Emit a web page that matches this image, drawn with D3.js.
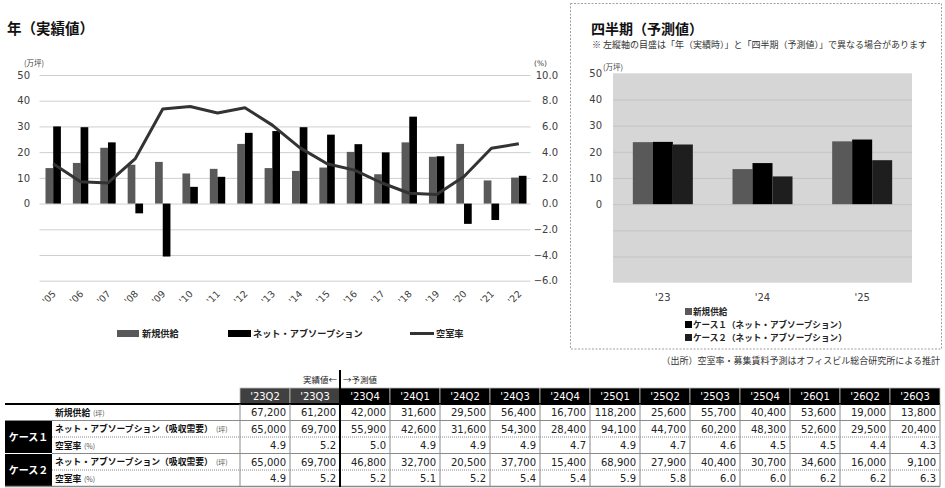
<!DOCTYPE html>
<html>
<head>
<meta charset="utf-8">
<script src="https://cdn.jsdelivr.net/npm/d3@7"></script>
<style>
  body { margin: 0; background: #fff; }
  svg { display: block; }
  text { font-family: "DejaVu Sans", "Noto Sans CJK JP", sans-serif; }
  .jp { font-family: "Noto Sans CJK JP", sans-serif; }
</style>
</head>
<body>
<svg id="chart" width="945" height="488"></svg>
<script>
// ---- Annual results (万坪 / %) ----
const years = ["'05","'06","'07","'08","'09","'10","'11","'12","'13","'14","'15","'16","'17","'18","'19","'20","'21","'22"];
const newSupply = [13.8, 15.8, 21.7, 15.1, 16.2, 11.7, 13.5, 23.2, 13.8, 12.7, 14.0, 20.1, 11.4, 23.8, 18.2, 23.2, 9.0, 10.1];
const netAbsorption = [30.0, 29.7, 23.8, -3.8, -20.6, 6.5, 10.4, 27.5, 28.2, 29.7, 26.8, 23.1, 19.9, 33.8, 18.4, -7.9, -6.4, 10.8];
const vacancy = [3.1, 1.7, 1.6, 3.5, 7.35, 7.55, 7.05, 7.45, 6.1, 4.35, 3.1, 2.6, 1.6, 0.8, 0.7, 2.1, 4.3, 4.65];
const leftTicks = [0, 10, 20, 30, 40, 50];
const rightTicks = [-6, -4, -2, 0, 2, 4, 6, 8, 10];

// ---- Forecast by year (万坪) ----
const fcYears = ["'23", "'24", "'25"];
const fcSupply = [23.7, 13.4, 24.0];
const fcCase1 = [23.8, 15.7, 24.7];
const fcCase2 = [22.8, 10.6, 16.8];

// ---- Quarterly table ----
const quarters = ["'23Q2","'23Q3","'23Q4","'24Q1","'24Q2","'24Q3","'24Q4","'25Q1","'25Q2","'25Q3","'25Q4","'26Q1","'26Q2","'26Q3"];
const qSupply = [67200, 61200, 42000, 31600, 29500, 56400, 16700, 118200, 25600, 55700, 40400, 53600, 19000, 13800];
const qCase1Net = [65000, 69700, 55900, 42600, 31600, 54300, 28400, 94100, 44700, 60200, 48300, 52600, 29500, 20400];
const qCase1Vac = [4.9, 5.2, 5.0, 4.9, 4.9, 4.9, 4.7, 4.9, 4.7, 4.6, 4.5, 4.5, 4.4, 4.3];
const qCase2Net = [65000, 69700, 46800, 32700, 20500, 37700, 15400, 68900, 27900, 40400, 30700, 34600, 16000, 9100];
const qCase2Vac = [4.9, 5.2, 5.2, 5.1, 5.2, 5.4, 5.4, 5.9, 5.8, 6.0, 6.0, 6.2, 6.2, 6.3];
const actualCount = 2;

const C_SUPPLY = "#595959", C_NET = "#000000", C_CASE2 = "#1e1e1e", C_LINE = "#333333";
const svg = d3.select("#chart");

// =================== Annual chart ===================
const L = { x0: 39.5, x1: 532.5, yTop: 75, yBot: 280.7 };
const x = d3.scaleBand().domain(years).range([L.x0, L.x1]);
const xs = d3.scaleBand().domain(["s", "n"]).range([0, 15.4]);
const off = (x.bandwidth() - xs.range()[1]) / 2;
const yL = d3.scaleLinear().domain([-30, 50]).range([L.yBot, L.yTop]);
const yR = d3.scaleLinear().domain([-6, 10]).range([L.yBot, L.yTop]);

svg.append("text").attr("class", "jp").attr("x", 7).attr("y", 34)
  .attr("font-size", 14.5).attr("font-weight", "bold").attr("fill", "#111").text("年（実績値）");

// grid
const gridL = svg.append("g").attr("transform", `translate(${L.x0},0)`)
  .call(d3.axisLeft(yL).tickValues(d3.range(-30, 51, 10)).tickSize(-(L.x1 - L.x0 - 2)).tickFormat(""));
gridL.select(".domain").remove();
gridL.selectAll("line").attr("stroke", "#cfcfcf").attr("stroke-width", 1);

// left axis labels
const axL = svg.append("g").attr("transform", "translate(33,0)")
  .call(d3.axisLeft(yL).tickValues(leftTicks).tickSize(0).tickPadding(3));
axL.select(".domain").remove();
axL.selectAll("text").attr("font-size", 10).attr("fill", "#404040").attr("font-family", "DejaVu Sans");
svg.append("text").attr("class", "jp").attr("x", 24).attr("y", 66).attr("font-size", 7.5).attr("fill", "#404040").text("(万坪)");

// right axis labels
const axR = svg.append("g").attr("transform", "translate(558,0)")
  .call(d3.axisLeft(yR).tickValues(rightTicks).tickSize(0).tickPadding(0).tickFormat(d3.format(".1f")));
axR.select(".domain").remove();
axR.selectAll("text").attr("font-size", 10).attr("fill", "#404040").attr("font-family", "DejaVu Sans");
svg.append("text").attr("x", 534).attr("y", 66).attr("font-size", 7.5).attr("fill", "#404040").text("(%)");

// bars
const annual = years.map((y, i) => ({ y, s: newSupply[i], n: netAbsorption[i], v: vacancy[i] }));
const gBars = svg.append("g");
gBars.selectAll("rect.s").data(annual).join("rect")
  .attr("x", d => x(d.y) + off + xs("s")).attr("width", xs.bandwidth())
  .attr("y", d => yL(Math.max(0, d.s))).attr("height", d => Math.abs(yL(d.s) - yL(0)))
  .attr("fill", C_SUPPLY);
gBars.selectAll("rect.n").data(annual).join("rect")
  .attr("x", d => x(d.y) + off + xs("n")).attr("width", xs.bandwidth())
  .attr("y", d => yL(Math.max(0, d.n))).attr("height", d => Math.abs(yL(d.n) - yL(0)))
  .attr("fill", C_NET);

// vacancy line
svg.append("path").datum(annual)
  .attr("fill", "none").attr("stroke", C_LINE).attr("stroke-width", 3).attr("stroke-linejoin", "round")
  .attr("d", d3.line().x(d => x(d.y) + x.bandwidth() / 2).y(d => yR(d.v)));

// x labels
svg.append("g").selectAll("text").data(years).join("text")
  .attr("transform", d => `translate(${x(d) + x.bandwidth() / 2 + 1},292) rotate(-45)`)
  .attr("text-anchor", "end").attr("dy", "0.35em")
  .attr("font-size", 9.5).attr("fill", "#404040").text(d => d);

// legend
const lg = svg.append("g").attr("class", "jp").attr("font-size", 9.2).attr("font-weight", "bold").attr("fill", "#222");
lg.append("rect").attr("x", 117).attr("y", 330).attr("width", 22).attr("height", 7).attr("fill", C_SUPPLY);
lg.append("text").attr("x", 142).attr("y", 337).text("新規供給");
lg.append("rect").attr("x", 228).attr("y", 330).attr("width", 23).attr("height", 7).attr("fill", C_NET);
lg.append("text").attr("x", 253).attr("y", 337).text("ネット・アブソープション");
lg.append("line").attr("x1", 410).attr("x2", 434).attr("y1", 333.5).attr("y2", 333.5).attr("stroke", C_LINE).attr("stroke-width", 3);
lg.append("text").attr("x", 436).attr("y", 337).text("空室率");

// =================== Forecast panel ===================
svg.append("rect").attr("x", 570.5).attr("y", 3.5).attr("width", 371).attr("height", 345.5)
  .attr("fill", "none").attr("stroke", "#a0a0a0").attr("stroke-dasharray", "2,1.5");
svg.append("text").attr("class", "jp").attr("x", 591).attr("y", 34)
  .attr("font-size", 14).attr("font-weight", "bold").attr("fill", "#111").text("四半期（予測値）");
svg.append("text").attr("class", "jp").attr("x", 592).attr("y", 47.5)
  .attr("font-size", 9).attr("fill", "#333")
  .text("※ 左縦軸の目盛は「年（実績時）」と「四半期（予測値）」で異なる場合があります");

const R = { x0: 613, x1: 912, yTop: 73.3, yBot: 282.7 };
const xf = d3.scaleBand().domain(fcYears).range([R.x0, R.x1]);
const xfs = d3.scaleBand().domain(["s", "c1", "c2"]).range([0, 60]);
const offF = (xf.bandwidth() - 60) / 2;
const yF = d3.scaleLinear().domain([-30, 50]).range([R.yBot, R.yTop]);

svg.append("rect").attr("x", R.x0).attr("y", R.yTop).attr("width", R.x1 - R.x0).attr("height", R.yBot - R.yTop).attr("fill", "#d6d6d6");
const gridF = svg.append("g").attr("transform", `translate(${R.x0},0)`)
  .call(d3.axisLeft(yF).tickValues(d3.range(-20, 41, 10)).tickSize(-(R.x1 - R.x0)).tickFormat(""));
gridF.select(".domain").remove();
gridF.selectAll("line").attr("stroke", "#c4c4c4");

const axF = svg.append("g").attr("transform", "translate(605,0)")
  .call(d3.axisLeft(yF).tickValues(leftTicks).tickSize(0).tickPadding(3));
axF.select(".domain").remove();
axF.selectAll("text").attr("font-size", 10).attr("fill", "#404040").attr("font-family", "DejaVu Sans");
svg.append("text").attr("class", "jp").attr("x", 603).attr("y", 70).attr("font-size", 7.5).attr("fill", "#404040").text("(万坪)");

const fc = fcYears.map((y, i) => ({ y, vals: [["s", fcSupply[i], C_SUPPLY], ["c1", fcCase1[i], C_NET], ["c2", fcCase2[i], C_CASE2]] }));
svg.append("g").selectAll("g").data(fc).join("g")
  .attr("transform", d => `translate(${xf(d.y) + offF},0)`)
  .selectAll("rect").data(d => d.vals).join("rect")
  .attr("x", d => xfs(d[0])).attr("width", xfs.bandwidth())
  .attr("y", d => yF(d[1])).attr("height", d => yF(0) - yF(d[1]))
  .attr("fill", d => d[2]);

svg.append("g").selectAll("text").data(fcYears).join("text")
  .attr("x", d => xf(d) + xf.bandwidth() / 2).attr("y", 301).attr("text-anchor", "middle")
  .attr("font-size", 10).attr("fill", "#404040").text(d => d);

const fl = svg.append("g").attr("class", "jp").attr("font-size", 8.6).attr("font-weight", "bold").attr("fill", "#222");
[["新規供給", C_SUPPLY, 311.5], ["ケース１（ネット・アブソープション）", C_NET, 324.5], ["ケース２（ネット・アブソープション）", C_CASE2, 337.5]]
  .forEach(([t, c, yy]) => {
    fl.append("rect").attr("x", 685).attr("y", yy - 3.5).attr("width", 7).attr("height", 7).attr("fill", c);
    fl.append("text").attr("x", 693).attr("y", yy + 3.2).text(t);
  });

svg.append("text").attr("class", "jp").attr("x", 940).attr("y", 364).attr("text-anchor", "end")
  .attr("font-size", 9).attr("fill", "#333").text("（出所）空室率・募集賃料予測はオフィスビル総合研究所による推計");

// =================== Quarterly table ===================
const T = { x0: 5, colX: 240, colW: 50, hTop: 388, hBot: 404 };
const rowsY = [404, 420.5, 437, 453.5, 470, 486.5];
const colX = d3.scaleBand().domain(quarters).range([T.colX, T.colX + T.colW * quarters.length]);
const tbl = svg.append("g");

svg.append("text").attr("class", "jp").attr("x", 337).attr("y", 383).attr("text-anchor", "end")
  .attr("font-size", 8.5).attr("fill", "#222").text("実績値←");
svg.append("text").attr("class", "jp").attr("x", 343).attr("y", 383)
  .attr("font-size", 8.5).attr("fill", "#222").text("→予測値");

// header
tbl.selectAll("rect.h").data(quarters).join("rect")
  .attr("x", d => colX(d)).attr("y", T.hTop).attr("width", colX.bandwidth()).attr("height", T.hBot - T.hTop)
  .attr("fill", (d, i) => i < actualCount ? "#404040" : "#000").attr("stroke", "#bbb").attr("stroke-width", 0.8);
tbl.selectAll("text.h").data(quarters).join("text")
  .attr("x", d => colX(d) + colX.bandwidth() / 2).attr("y", T.hBot - 4).attr("text-anchor", "middle")
  .attr("font-size", 10).attr("fill", "#fff").text(d => d);

// case boxes
[[1, "ケース１"], [3, "ケース２"]].forEach(([r, t]) => {
  tbl.append("rect").attr("x", T.x0).attr("y", rowsY[r] + 0.5).attr("width", 47).attr("height", rowsY[r + 2] - rowsY[r] - 1).attr("fill", "#000");
  tbl.append("text").attr("class", "jp").attr("x", T.x0 + 23.5).attr("y", (rowsY[r] + rowsY[r + 2]) / 2 + 3.5)
    .attr("text-anchor", "middle").attr("font-size", 10).attr("font-weight", "bold").attr("fill", "#fff").text(t);
});

// horizontal rules
const xEnd = T.colX + T.colW * quarters.length;
tbl.append("line").attr("x1", 5).attr("x2", xEnd).attr("y1", rowsY[0]).attr("y2", rowsY[0]).attr("stroke", "#000").attr("stroke-width", 2);
[[1, 5, false], [2, 52, true], [3, 52, false], [4, 52, true], [5, 5, false]].forEach(([r, x1, dotted]) => {
  tbl.append("line").attr("x1", x1).attr("x2", xEnd).attr("y1", rowsY[r]).attr("y2", rowsY[r])
    .attr("stroke", "#8a8a8a").attr("stroke-width", r === 5 ? 1.5 : 1)
    .attr("stroke-dasharray", dotted ? "1,1" : null);
});
// vertical rules
d3.range(quarters.length + 1).forEach(i => {
  const xx = T.colX + T.colW * i;
  tbl.append("line").attr("x1", xx).attr("x2", xx).attr("y1", rowsY[0]).attr("y2", rowsY[5])
    .attr("stroke", "#8a8a8a").attr("stroke-width", 1);
});
tbl.append("line").attr("x1", T.colX + T.colW * actualCount).attr("x2", T.colX + T.colW * actualCount)
  .attr("y1", 370).attr("y2", 487).attr("stroke", "#000").attr("stroke-width", 2);

// row labels
const rowLabels = [["新規供給", "(坪)", 93], ["ネット・アブソープション（吸収需要）", "(坪)", 216], ["空室率", "(%)", 84],
                   ["ネット・アブソープション（吸収需要）", "(坪)", 216], ["空室率", "(%)", 84]];
rowLabels.forEach(([t, u, ux], r) => {
  const yy = (rowsY[r] + rowsY[r + 1]) / 2 + 3.3;
  tbl.append("text").attr("class", "jp").attr("x", 55).attr("y", yy).attr("font-size", 8.8).attr("font-weight", "bold").attr("fill", "#111").text(t);
  tbl.append("text").attr("class", "jp").attr("x", ux).attr("y", yy).attr("font-size", 7).attr("fill", "#555").text(u);
});

// cell values
const fmtInt = d3.format(",");
const fmtPct = d3.format(".1f");
[[qSupply, fmtInt], [qCase1Net, fmtInt], [qCase1Vac, fmtPct], [qCase2Net, fmtInt], [qCase2Vac, fmtPct]].forEach(([arr, f], r) => {
  tbl.append("g").selectAll("text").data(arr).join("text")
    .attr("x", (d, i) => colX(quarters[i]) + colX.bandwidth() - 4)
    .attr("y", (rowsY[r] + rowsY[r + 1]) / 2 + 3.8)
    .attr("text-anchor", "end").attr("font-size", 10).attr("fill", "#222").text(d => f(d));
});
</script>
</body>
</html>
